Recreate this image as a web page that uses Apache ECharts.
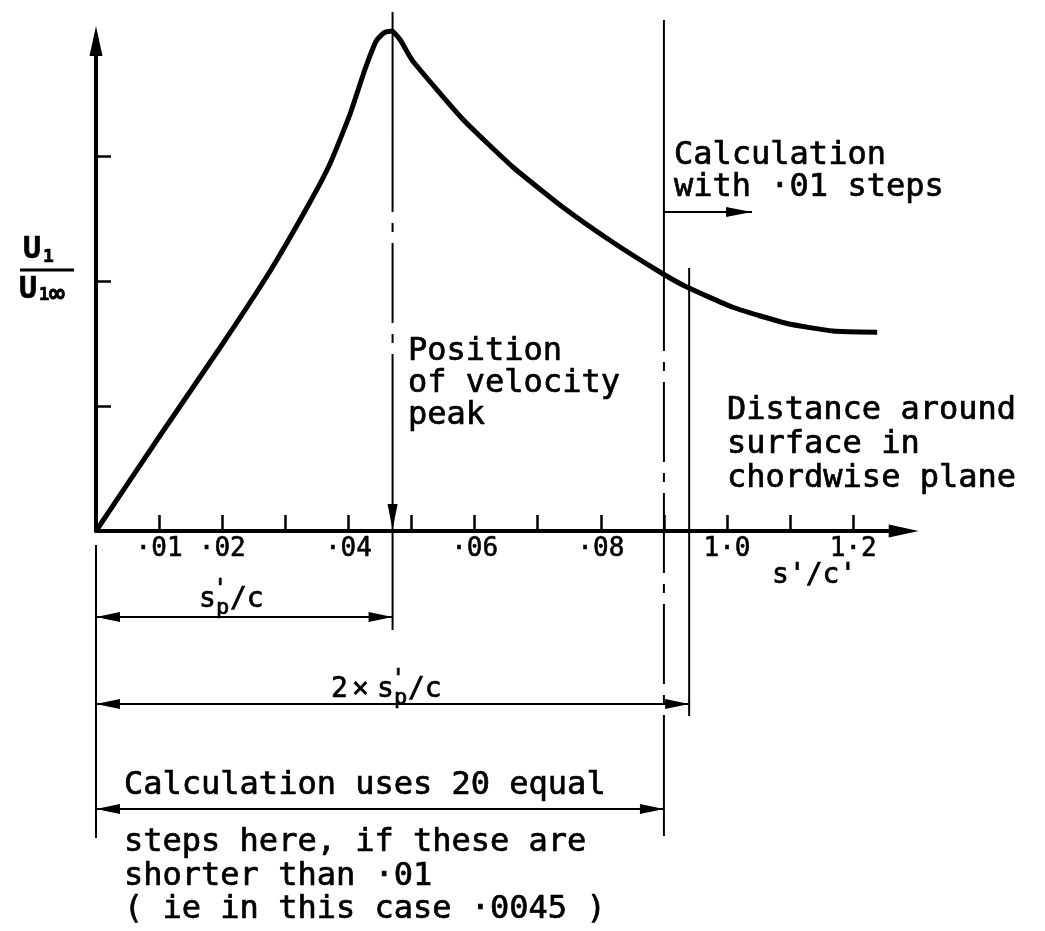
<!DOCTYPE html>
<html>
<head>
<meta charset="utf-8">
<script src="https://cdn.jsdelivr.net/npm/echarts@6/dist/echarts.min.js"></script>
<style>
  html, body { margin: 0; padding: 0; background: #fff; }
  #chart { width: 1045px; height: 931px; }
</style>
</head>
<body>
<div id="chart"></div>
<script>
// Velocity ratio u1/u1∞ against distance around the surface s'/c'
const distance = [0, 0.0101, 0.0201, 0.0276, 0.0339, 0.0371, 0.0403, 0.0426, 0.0442,
                  0.0447, 0.0458, 0.0469, 0.0482, 0.0502, 0.0582, 0.0661, 0.0740,
                  0.0819, 0.0891, 0.0933, 0.1009, 0.1095, 0.1168, 0.1238];
const velocityRatio = [0, 0.76, 1.50, 2.08, 2.63, 2.94, 3.34, 3.69, 3.90,
                       3.94, 3.99, 4.00, 3.93, 3.76, 3.29, 2.91, 2.59,
                       2.31, 2.08, 1.96, 1.79, 1.66, 1.60, 1.59];

// x-axis ticks and their labels (blank where the tick is unlabelled)
const xTickValues = [0.01, 0.02, 0.03, 0.04, 0.05, 0.06, 0.07, 0.08, 0.09, 0.10, 0.11, 0.12];
const xTickLabels = ['·01', '·02', '', '·04', '', '·06', '', '·08', '', '1·0', '', '1·2'];
const yTickValues = [1, 2, 3];

// Position of the velocity peak s'p/c, and the step scheme
const peakPosition = 0.047;
const doublePeak = 0.094;     // 2 × s'p/c
const equalSteps = 20;
const fineStep = 0.0045;      // 20 equal steps shorter than ·01
const fineRegionEnd = 0.09;   // 20 × ·0045

const FONT = '"DejaVu Sans Mono", monospace';
const chart = echarts.init(document.getElementById('chart'), null, { renderer: 'canvas' });

chart.setOption({
  animation: false,
  backgroundColor: '#fff',
  grid: { left: 96, top: 41, right: 141.3, bottom: 400 },
  xAxis: {
    type: 'value', min: 0, max: 0.128,
    axisLine: {
      show: true, onZero: false,
      lineStyle: { color: '#000', width: 4 },
      symbol: ['none', 'triangle'], symbolSize: [13, 30], symbolOffset: [0, 0]
    },
    axisTick: {
      show: true, inside: true, length: 16, customValues: xTickValues,
      lineStyle: { color: '#000', width: 2.5 }
    },
    axisLabel: {
      show: true, customValues: xTickValues, margin: 5,
      color: '#000', fontFamily: FONT, fontSize: 26,
      textBorderColor: '#000', textBorderWidth: 0.6,
      formatter: v => xTickLabels[Math.round(v * 100) - 1] || ''
    },
    splitLine: { show: false }
  },
  yAxis: {
    type: 'value', min: 0, max: 3.92,
    axisLine: {
      show: true, onZero: false,
      lineStyle: { color: '#000', width: 4 },
      symbol: ['none', 'triangle'], symbolSize: [13, 30], symbolOffset: [0, 0]
    },
    axisTick: {
      show: true, inside: true, length: 15, customValues: yTickValues,
      lineStyle: { color: '#000', width: 2.5 }
    },
    axisLabel: { show: false },
    splitLine: { show: false }
  },
  series: [{
    type: 'line',
    data: distance.map((d, i) => [d, velocityRatio[i]]),
    showSymbol: false,
    symbol: 'none',
    smooth: 0.15,
    clip: false,
    lineStyle: { color: '#000', width: 5 },
    z: 5
  }]
});

// Annotation layer: dimension lines, reference lines and lettering
const px = (x, y) => chart.convertToPixel({ xAxisIndex: 0, yAxisIndex: 0 }, [x, y]);
const [x0, y0] = px(0, 0);
const xPeak = px(peakPosition, 0)[0];
const xDouble = px(doublePeak, 0)[0];
const xFine = px(fineRegionEnd, 0)[0];
const yCurveFine = px(fineRegionEnd, 2.08)[1];

const DASH_DOT = [80, 11, 9, 11];
const els = [];

function seg(xa, ya, xb, yb, w, dash) {
  els.push({
    type: 'line', z: 20,
    shape: { x1: xa, y1: ya, x2: xb, y2: yb },
    style: { stroke: '#000', lineWidth: w, lineDash: dash || null }
  });
}
function head(tx, ty, dir, len, half) {
  // filled arrowhead with its tip at (tx, ty)
  const L = len || 24, H = half || 5;
  let pts;
  if (dir === 'left') pts = [[tx, ty], [tx + L, ty - H], [tx + L, ty + H]];
  else if (dir === 'right') pts = [[tx, ty], [tx - L, ty - H], [tx - L, ty + H]];
  else pts = [[tx, ty], [tx - H, ty - L], [tx + H, ty - L]]; // down
  els.push({ type: 'polygon', z: 21, shape: { points: pts }, style: { fill: '#000' } });
}
function txt(x, y, s, size, weight) {
  els.push({
    type: 'text', z: 30, x: x, y: y,
    style: {
      text: s, font: (weight || 'normal') + ' ' + size + 'px ' + FONT, fill: '#000',
      stroke: '#000', lineWidth: 0.7,
      align: 'left', verticalAlign: 'middle',
      textAlign: 'left', textVerticalAlign: 'middle'
    }
  });
}
function dimension(y, xa, xb) {
  seg(xa, y, xb, y, 2);
  head(xa, y, 'left');
  head(xb, y, 'right');
}
// s'p/c lettering starting at (x, y)
function peakSymbol(x, y) {
  txt(x, y, 's', 28);
  txt(x + 14, y - 10, "'", 24);
  txt(x + 17, y + 8, 'p', 22);
  txt(x + 31, y, '/c', 28);
}

// vertical through the velocity peak
seg(xPeak, 12, xPeak, 132, 2);
seg(xPeak, 132, xPeak, 425, 2, DASH_DOT);
seg(xPeak, 425, xPeak, 630, 2);
head(xPeak, y0 - 1, 'down', 26, 5);

// boundary of the 20-equal-step region
seg(xFine, 20, xFine, yCurveFine, 2);
seg(xFine, yCurveFine, xFine, 722, 2, DASH_DOT);
seg(xFine, 722, xFine, 836, 2);
seg(xFine, 212, 752, 212, 2);
head(752, 212, 'right', 26, 5);

// 2 × s'p/c extension line
seg(xDouble, 268, xDouble, 716, 2);

// extension line below the origin
seg(x0, 545, x0, 838, 2);

// dimension lines
dimension(617, x0, xPeak);
dimension(704, x0, xDouble);
dimension(809, x0, xFine);

// y-axis label u1 / u1∞
txt(23, 250, 'U', 30, 'bold');
txt(43, 257, '1', 18, 'bold');
seg(20, 270, 74, 270, 3);
txt(19, 290, 'U', 30, 'bold');
txt(39, 296, '1', 17, 'bold');
txt(49, 295, '∞', 26, 'bold');

// x-axis title
txt(772, 576, "s'/c'", 28);

// s'p/c and 2 × s'p/c
peakSymbol(199, 600);
txt(331, 690, '2', 28);
txt(352, 690, '×', 28);
peakSymbol(377, 690);

// notes
txt(674, 156, 'Calculation', 32);
txt(674, 188, 'with ·01 steps', 32);
txt(408, 352, 'Position', 32);
txt(408, 384, 'of velocity', 32);
txt(408, 416, 'peak', 32);
txt(727, 411, 'Distance around', 32);
txt(727, 445, 'surface in', 32);
txt(727, 479, 'chordwise plane', 32);
txt(124, 786, 'Calculation uses ' + equalSteps + ' equal', 32);
txt(124, 843, 'steps here, if these are', 32);
txt(124, 877, 'shorter than ·01', 32);
txt(124, 910, '( ie in this case ' + fineStep.toFixed(4).replace(/^0\./, '·') + ' )', 32);

chart.setOption({ graphic: { elements: els } });
</script>
</body>
</html>
